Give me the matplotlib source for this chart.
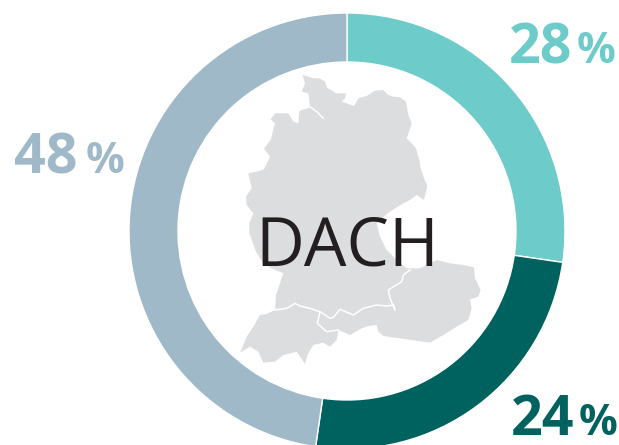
import numpy as np
from matplotlib import pyplot as plt
from matplotlib.patches import Polygon

# slice sizes as measured on the ring, labels as printed
shares = [27.3, 25.0, 47.7]
labels = ['28', '24', '48']
colors = ['#6dcbc9', '#00625f', '#a0b9c8']
center_label = 'DACH'

map_trace = [
    (218, 45), (235, 50), (250, 55), (268, 55), (285, 65), (292, 85), (305, 90), (318, 100),
    (348, 100), (345, 115), (335, 125), (350, 130), (372, 138), (385, 115), (410, 108),
    (435, 92), (460, 90), (475, 105), (490, 110), (510, 112), (528, 125), (535, 165),
    (545, 190), (538, 212), (530, 235), (545, 250), (558, 265), (568, 300), (572, 325),
    (582, 355), (592, 378), (582, 420), (560, 405), (540, 420), (520, 430), (495, 445),
    (470, 462), (440, 490), (450, 530), (470, 570), (500, 600), (530, 625), (570, 625),
    (600, 610), (620, 600), (660, 610), (700, 615), (732, 622), (735, 655), (752, 690),
    (745, 710), (720, 718), (725, 745), (715, 780), (680, 800), (640, 825), (600, 848),
    (530, 838), (460, 828), (445, 815), (440, 795), (415, 798), (395, 805), (360, 825),
    (338, 815), (325, 810), (320, 840), (300, 860), (280, 848), (250, 855), (232, 885),
    (225, 912), (200, 875), (160, 885), (135, 905), (100, 908), (85, 875), (60, 860),
    (30, 878), (50, 830), (70, 800), (90, 765), (110, 762), (135, 750), (138, 705),
    (150, 670), (160, 640), (125, 625), (100, 610), (78, 575), (58, 520), (58, 490),
    (70, 460), (50, 435), (48, 410), (65, 385), (55, 340), (80, 335), (102, 328),
    (120, 290), (102, 265), (122, 240), (135, 190), (122, 178), (135, 160), (175, 160),
    (190, 185), (205, 190), (208, 150), (240, 140), (235, 100), (215, 95), (225, 70),
]

# white borders and the Elbe, same crop coordinates
border_de = [(135, 750), (170, 745), (195, 730), (210, 738), (240, 745), (270, 755), (300, 775),
             (310, 772), (330, 748), (370, 765), (400, 745), (440, 735), (470, 738), (490, 735),
             (495, 750), (480, 715), (475, 690), (515, 665), (520, 645), (540, 630)]
border_ch = [(270, 755), (262, 790), (290, 815), (325, 810)]
elbe = [(208, 150), (240, 140), (260, 155), (280, 175)]

W, H = 619, 445


def to_pixels(trace):
    pts = np.array(trace, dtype=float)
    return pts[:, 0] / 3 + 230, H - (pts[:, 1] / 3 + 60)


fig = plt.figure(figsize=(W / 100, H / 100), dpi=100)
ax = fig.add_axes([0, 0, 1, 1])

ax.pie(shares, colors=colors, startangle=90, counterclock=False,
       center=(347, H - 231), radius=218,
       wedgeprops={'width': 49, 'edgecolor': 'white', 'linewidth': 1})

map_xs, map_ys = to_pixels(map_trace)
ax.add_patch(Polygon(np.column_stack([map_xs, map_ys]), closed=True, facecolor='#dcddde', edgecolor='none'))
for line in [border_de, border_ch, elbe]:
    xs, ys = to_pixels(line)
    ax.plot(xs, ys, color='white', lw=1.1)

ax.text(347.5, H - 265.5, center_label, ha='center', va='baseline', fontsize=48.5,
        family='Open Sans', color='#231f20')

# number x, percent x, baseline y
label_pos = [(509, 577, 63), (511, 579, 435), (14, 86, 173)]
for label, color, (x_num, x_pct, y) in zip(labels, colors, label_pos):
    ax.text(x_num, H - y, label, ha='left', va='baseline', fontsize=40,
            family='Open Sans', weight='bold', color=color)
    ax.text(x_pct, H - y, '%', ha='left', va='baseline', fontsize=31,
            family='Open Sans', weight='bold', color=color)

ax.set_xlim(0, W)
ax.set_ylim(0, H)
ax.set_aspect('auto')
ax.axis('off')

plt.savefig('out.png', dpi=100)
plt.close()
